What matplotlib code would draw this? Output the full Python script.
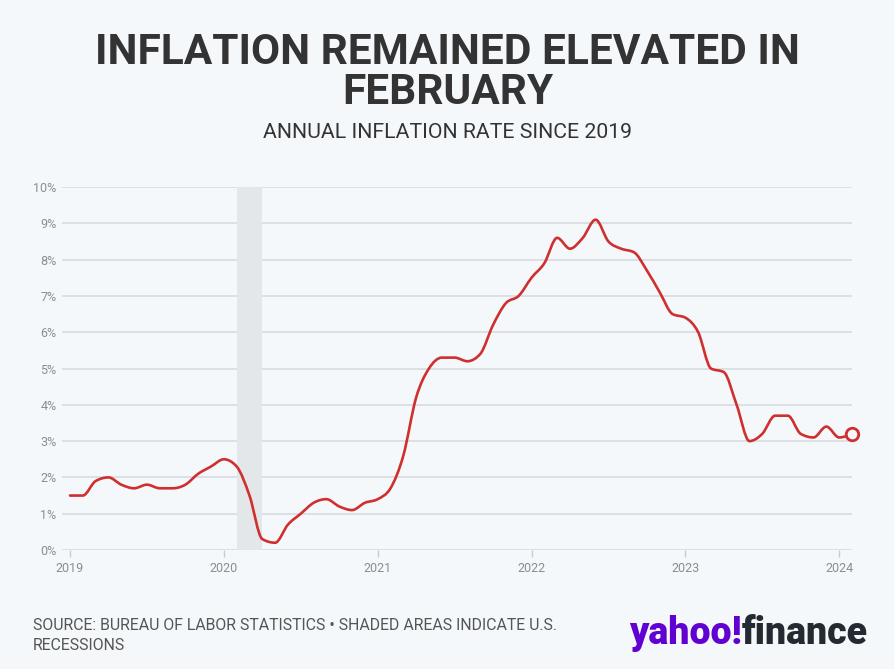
import numpy as np
import matplotlib.pyplot as plt
from matplotlib.path import Path
from matplotlib.patches import PathPatch

# Annual CPI inflation rate (%), monthly, Jan 2019 - Feb 2024
start_year = 2019
inflation = [
    1.5, 1.5, 1.9, 2.0, 1.8, 1.7, 1.8, 1.7, 1.7, 1.8, 2.1, 2.3,   # 2019
    2.5, 2.3, 1.5, 0.3, 0.2, 0.7, 1.0, 1.3, 1.4, 1.2, 1.1, 1.3,   # 2020
    1.4, 1.7, 2.6, 4.2, 5.0, 5.3, 5.3, 5.2, 5.4, 6.2, 6.8, 7.0,   # 2021
    7.5, 7.9, 8.6, 8.3, 8.6, 9.1, 8.5, 8.3, 8.2, 7.7, 7.1, 6.5,   # 2022
    6.4, 6.0, 5.0, 4.9, 4.0, 3.0, 3.2, 3.7, 3.7, 3.2, 3.1, 3.4,   # 2023
    3.1, 3.2,                                                     # 2024
]
recession = (2020 + 1 / 12, 2020 + 3 / 12)  # Feb - Apr 2020
year_ticks = [2019, 2020, 2021, 2022, 2023, 2024]
pct_ticks = list(range(0, 11))

BG = "#f5f8fa"
RED = "#cf2f2f"
GRID = "#dadde1"
TICK_TXT = "#8a8d91"

plt.rcParams['font.family'] = ['Roboto', 'DejaVu Sans']


def monotone_path(x, y):
    # cubic bezier path like d3.curveMonotoneX
    x = np.asarray(x, float)
    y = np.asarray(y, float)
    n = len(x)
    h = np.diff(x)
    s = np.diff(y) / h
    t = np.zeros(n)
    for i in range(1, n - 1):
        s0, s1 = s[i - 1], s[i]
        h0, h1 = h[i - 1], h[i]
        p = (s0 * h1 + s1 * h0) / (h0 + h1)
        sg = (1 if s0 >= 0 else -1) + (1 if s1 >= 0 else -1)
        t[i] = sg * min(abs(s0), abs(s1), 0.5 * abs(p))
    t[0] = (3 * s[0] - t[1]) / 2
    t[-1] = (3 * s[-1] - t[-2]) / 2
    verts = [(x[0], y[0])]
    codes = [Path.MOVETO]
    for i in range(n - 1):
        d = h[i] / 3
        verts += [(x[i] + d, y[i] + d * t[i]),
                  (x[i + 1] - d, y[i + 1] - d * t[i + 1]),
                  (x[i + 1], y[i + 1])]
        codes += [Path.CURVE4] * 3
    return Path(verts, codes)


x = start_year + np.arange(len(inflation)) / 12

fig = plt.figure(figsize=(8.95, 6.69), dpi=100, facecolor=BG)
W, H = 895, 669
ax = fig.add_axes([62 / W, 1 - 550 / H, (852 - 62) / W, (550 - 187) / H])
ax.set_facecolor(BG)

x_left = start_year - 8 / 153.6
ax.set_xlim(x_left, x[-1])
ax.set_ylim(0, 10)

ax.axvspan(recession[0], recession[1], color="#e4e7ea", lw=0, zorder=1)
for v in pct_ticks:
    ax.axhline(v, color=GRID, lw=1.3, zorder=0.5)

ax.add_patch(PathPatch(monotone_path(x, inflation), fill=False, edgecolor=RED,
                       lw=1.9, joinstyle='round', capstyle='round', zorder=3,
                       clip_on=False))
ax.plot(x[-1], inflation[-1], 'o', ms=9, mfc=BG, mec=RED, mew=2, zorder=4,
        clip_on=False)

for sp in ax.spines.values():
    sp.set_visible(False)
ax.set_yticks(pct_ticks)
ax.set_yticklabels([f"{v}%" for v in pct_ticks])
ax.set_xticks(year_ticks)
ax.set_xticklabels([str(y) for y in year_ticks])
ax.tick_params(axis='y', length=0, pad=4, labelsize=9, labelcolor=TICK_TXT)
ax.tick_params(axis='x', length=5, width=1, color="#c8cbcf", pad=4,
               labelsize=9, labelcolor=TICK_TXT)

# titles
fig.text(0.5, 1 - 53 / H, "INFLATION REMAINED ELEVATED IN", ha='center', va='center',
         fontsize=30.5, fontweight='bold', color="#333333")
fig.text(0.5, 1 - 93 / H, "FEBRUARY", ha='center', va='center',
         fontsize=30.5, fontweight='bold', color="#333333")
fig.text(0.5, 1 - 132 / H, "ANNUAL INFLATION RATE SINCE 2019", ha='center', va='center',
         fontsize=15.3, fontweight='normal', color="#333333")

# footer
fig.text(33 / W, 1 - 626 / H, "SOURCE: BUREAU OF LABOR STATISTICS \u2022 SHADED AREAS INDICATE U.S.",
         ha='left', va='center', fontsize=11.4, color="#555555")
fig.text(33 / W, 1 - 645 / H, "RECESSIONS", ha='left', va='center',
         fontsize=11.4, color="#555555")

# logo
fig.text(742 / W, 1 - 634 / H, "yahoo!", ha='right', va='center', fontsize=27,
         fontweight='heavy', color="#6001d2")
fig.text(742 / W, 1 - 634 / H, "finance", ha='left', va='center', fontsize=27,
         fontweight='heavy', color="#232a31")

fig.savefig("out.png", dpi=100, facecolor=BG)
